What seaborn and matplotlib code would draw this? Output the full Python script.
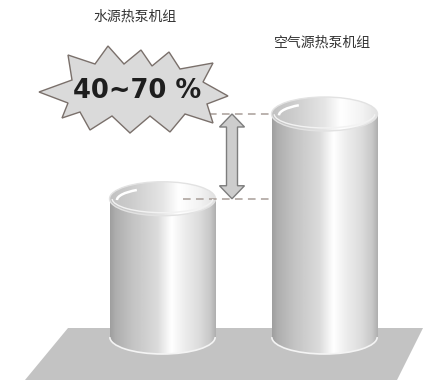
import numpy as np
import matplotlib
matplotlib.use("Agg")
import matplotlib.pyplot as plt
import seaborn as sns
from matplotlib.patches import Polygon, Ellipse, Arc

# ---- data ----
categories = ["水源热泵机组", "空气源热泵机组"]
values = [62, 100]            # relative energy consumption (air source = 100)
badge_text = "40~70 %"

sns.set_style("white")
plt.rcParams['font.family'] = ['Noto Sans CJK SC', 'DejaVu Sans']

fig = plt.figure(figsize=(4.45, 3.83), dpi=100)
ax = fig.add_axes([0, 0, 1, 1])

# pixel -> data helper (used for decorations only)
X0, XS = 162.5, 162.0
Y0, YS = 337.0, 2.23
def P(px, py):
    return ((px - X0) / XS, (Y0 - py) / YS)

BAR_W = 0.654
ELL_H = 34 / YS

sns.barplot(x=categories, y=values, ax=ax, width=BAR_W, color="#d0d0d0",
            saturation=1, zorder=3, linewidth=0)

# floor
floor = [P(68, 328), P(423, 328), P(397, 380), P(25, 380)]
ax.add_patch(Polygon(floor, closed=True, facecolor="#c3c3c3", edgecolor="none", zorder=1))

body_t = [0, 0.05, 0.2, 0.45, 0.58, 0.7, 0.85, 0.95, 1.0]
body_v = [0.62, 0.68, 0.76, 0.86, 1.0, 0.93, 0.86, 0.78, 0.68]
tt = np.linspace(0, 1, 256)
body_grad = np.interp(tt, body_t, body_v)[None, :]
top_grad = np.interp(tt, [0, 0.2, 0.5, 0.65, 0.85, 1.0],
                     [0.76, 0.80, 0.90, 1.0, 0.95, 0.88])[None, :]

for bar in list(ax.patches):
    if bar.get_zorder() != 3:
        continue
    x0 = bar.get_x(); w = bar.get_width(); h = bar.get_height()
    xc = x0 + w / 2
    bar.set_facecolor("none")
    # body
    im = ax.imshow(body_grad, cmap="gray", vmin=0, vmax=1, aspect="auto",
                   extent=[x0, x0 + w, -ELL_H, h], interpolation="bicubic", zorder=4)
    im.set_clip_path(bar)
    bot = Ellipse((xc, 0), w, ELL_H, facecolor="none", edgecolor="none", zorder=4)
    ax.add_patch(bot)
    im2 = ax.imshow(body_grad, cmap="gray", vmin=0, vmax=1, aspect="auto",
                    extent=[x0, x0 + w, -ELL_H, h], interpolation="bicubic", zorder=4)
    im2.set_clip_path(bot)
    ax.add_patch(Arc((xc, 0), w * 0.995, ELL_H, theta1=185, theta2=355,
                     color="#f4f4f4", lw=1.2, zorder=5))
    # top opening
    top = Ellipse((xc, h), w, ELL_H, facecolor="none", edgecolor="#e2e2e2", lw=1.0, zorder=6)
    ax.add_patch(top)
    im3 = ax.imshow(top_grad, cmap="gray", vmin=0, vmax=1, aspect="auto",
                    extent=[x0, x0 + w, h - ELL_H / 2, h + ELL_H / 2],
                    interpolation="bicubic", zorder=5)
    im3.set_clip_path(top)
    ax.add_patch(Arc((xc, h - ELL_H * 0.04), w * 0.86, ELL_H * 0.72, theta1=92, theta2=178,
                     color="white", lw=1.8, zorder=7))
    ax.add_patch(Arc((xc, h), w * 0.95, ELL_H * 0.82, theta1=200, theta2=340,
                     color="#f2f2f2", lw=1.0, zorder=7))

# dashed reference lines and double arrow between the two heights
lo, hi = values[0], values[1]
xa0, xa1 = (183 - X0) / XS, (271 - X0) / XS
for v in (lo, hi):
    ax.plot([xa0, xa1], [v, v], color="#a89e98", lw=1.1, ls=(0, (5, 3.5)), zorder=6)

ax_x = 232
shaft, head, hl = 5.5, 12.5, 13
ylo_px = Y0 - lo * YS
yhi_px = Y0 - hi * YS
arrow_px = [(ax_x, yhi_px), (ax_x + head, yhi_px + hl), (ax_x + shaft, yhi_px + hl),
            (ax_x + shaft, ylo_px - hl), (ax_x + head, ylo_px - hl), (ax_x, ylo_px),
            (ax_x - head, ylo_px - hl), (ax_x - shaft, ylo_px - hl),
            (ax_x - shaft, yhi_px + hl), (ax_x - head, yhi_px + hl)]
ax.add_patch(Polygon([P(*p) for p in arrow_px], closed=True, facecolor="#cdcdcd",
                     edgecolor="#7d7d7d", lw=1.0, zorder=7))

# starburst badge
star_px = [(39, 92), (72, 80), (68, 55), (95, 64), (108, 46), (124, 64), (141, 50),
           (152, 66), (169, 52), (180, 69), (213, 63), (203, 82), (228, 96), (207, 104),
           (213, 123), (185, 114), (170, 132), (150, 116), (130, 133), (112, 116),
           (90, 130), (80, 112), (62, 118), (68, 103)]
ax.add_patch(Polygon([P(*p) for p in star_px], closed=True, facecolor="#dadada",
                     edgecolor="#7a706b", lw=1.0, zorder=8))
ax.text(*P(137, 91), badge_text, fontsize=18.5, fontweight="bold", family="DejaVu Sans",
        color="#1e1e1e", ha="center", va="center", zorder=9)

# category labels
ax.text(*P(135, 17), categories[0], fontsize=10, color="#333333", ha="center", va="center")
ax.text(*P(322, 43), categories[1], fontsize=10, color="#333333", ha="center", va="center")

ax.set_xlim((0 - X0) / XS, (445 - X0) / XS)
ax.set_ylim((Y0 - 383) / YS, Y0 / YS)
ax.axis("off")
fig.savefig("out.png", dpi=100)
